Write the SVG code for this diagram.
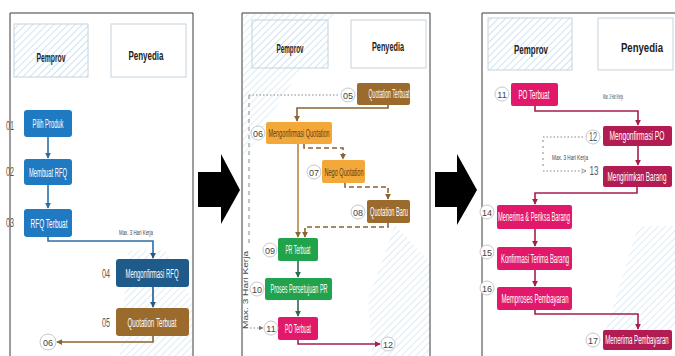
<svg xmlns="http://www.w3.org/2000/svg" width="675" height="356" viewBox="0 0 675 356">
<defs>
<pattern id="hatch" width="5" height="5" patternUnits="userSpaceOnUse" patternTransform="rotate(45)">
<rect width="5" height="5" fill="#ffffff"/>
<line x1="0" y1="0" x2="0" y2="5" stroke="#b9d7ec" stroke-width="1.4"/>
</pattern>
<pattern id="hatchT" width="5" height="5" patternUnits="userSpaceOnUse" patternTransform="rotate(45)">
<line x1="0" y1="0" x2="0" y2="5" stroke="#c3def0" stroke-width="1.3"/>
</pattern>
<marker id="aBlue" viewBox="0 0 8 8" refX="7" refY="4" markerWidth="6" markerHeight="6" orient="auto" markerUnits="userSpaceOnUse"><path d="M0,0 L8,4 L0,8 z" fill="#2b6ea6"/></marker>
<marker id="aNavy" viewBox="0 0 8 8" refX="7" refY="4" markerWidth="6" markerHeight="6" orient="auto" markerUnits="userSpaceOnUse"><path d="M0,0 L8,4 L0,8 z" fill="#1e5b8a"/></marker>
<marker id="aBrown" viewBox="0 0 8 8" refX="7" refY="4" markerWidth="6" markerHeight="6" orient="auto" markerUnits="userSpaceOnUse"><path d="M0,0 L8,4 L0,8 z" fill="#8a6433"/></marker>
<marker id="aGreen" viewBox="0 0 8 8" refX="7" refY="4" markerWidth="6" markerHeight="6" orient="auto" markerUnits="userSpaceOnUse"><path d="M0,0 L8,4 L0,8 z" fill="#2d6a4f"/></marker>
<marker id="aRed" viewBox="0 0 8 8" refX="7" refY="4" markerWidth="6" markerHeight="6" orient="auto" markerUnits="userSpaceOnUse"><path d="M0,0 L8,4 L0,8 z" fill="#a61e4d"/></marker>
<marker id="aGray" viewBox="0 0 8 8" refX="7" refY="4" markerWidth="5" markerHeight="5" orient="auto" markerUnits="userSpaceOnUse"><path d="M0,0 L8,4 L0,8 z" fill="#777"/></marker>
<marker id="aOpen" viewBox="0 0 8 8" refX="7" refY="4" markerWidth="6" markerHeight="6" orient="auto" markerUnits="userSpaceOnUse"><path d="M1,1 L7,4 L1,7" fill="none" stroke="#777" stroke-width="1"/></marker>
</defs>
<style>
.panel{fill:none;stroke:#3a3a3a;stroke-width:1}
.hdr{fill:#fff;stroke:#c5d3de;stroke-width:1}
.hdrh{fill:url(#hatch);stroke:#c5d3de;stroke-width:1}
.htxt{font-family:"Liberation Sans",Arial,sans-serif;font-size:13px;font-weight:bold;fill:#222;text-anchor:middle}
.lbl{font-family:"Liberation Sans",Arial,sans-serif;font-size:12px;fill:#fff;text-anchor:middle}
.dlbl{font-family:"Liberation Sans",Arial,sans-serif;font-size:11px;fill:#5a3c12;text-anchor:middle}
.num{font-family:"Liberation Sans",Arial,sans-serif;font-size:12px;fill:#555;text-anchor:middle}
.cnum{font-family:"Liberation Sans",Arial,sans-serif;font-size:9px;fill:#444;text-anchor:middle}
.circ{fill:#fff;stroke:#c8c8c8;stroke-width:1}
.note{font-family:"Liberation Sans",Arial,sans-serif;font-size:7px;fill:#444;text-anchor:middle}
.blue{fill:#1f7ac2}
.navy{fill:#1e5b8a}
.brown{fill:#9b6b2e}
.orange{fill:#f3a93a}
.green{fill:#21a24c}
.pink{fill:#e2186a}
.crim{fill:#b21c52}
.ln{fill:none;stroke-width:1.6}
.deco{fill:url(#hatchT);opacity:0.9}
</style>

<!-- decorations -->
<polygon class="deco" points="243,14 335,14 243,160"/>
<polygon class="deco" points="128,250 165,250 192,300 192,356 120,356"/>
<polygon class="deco" points="395,225 430,262 430,356 372,356 368,300"/>
<polygon class="deco" points="638,226 675,226 675,330 606,330"/>

<!-- panels -->
<path class="panel" d="M10 356 V13 H193 V356"/>
<path class="panel" d="M242 356 V13 H430 V356" stroke="#666"/>
<path class="panel" d="M482 356 V13 H675"/>

<!-- big arrows -->
<polygon points="198,172 221,172 221,154 240,190 221,224 221,207 198,207" fill="#000"/>
<polygon points="435,172 457,172 457,154 477,190 457,225 457,207 435,207" fill="#000"/>

<!-- headers -->
<g id="p1-hdr-pemprov"><rect class="hdrh" x="14" y="24" width="74" height="53"/><text class="htxt" x="51" y="62" textLength="29" lengthAdjust="spacingAndGlyphs">Pemprov</text></g>
<g id="p1-hdr-penyedia"><rect class="hdr" x="111" y="24" width="75" height="53"/><text class="htxt" x="146" y="60" textLength="35" lengthAdjust="spacingAndGlyphs">Penyedia</text></g>
<g id="p2-hdr-pemprov"><rect class="hdrh" x="252" y="20" width="76" height="48"/><text class="htxt" x="290" y="53" textLength="27" lengthAdjust="spacingAndGlyphs">Pemprov</text></g>
<g id="p2-hdr-penyedia"><rect class="hdr" x="351" y="20" width="75" height="48"/><text class="htxt" x="388" y="51" textLength="32" lengthAdjust="spacingAndGlyphs">Penyedia</text></g>
<g id="p3-hdr-pemprov"><rect class="hdrh" x="488" y="18" width="84" height="52"/><text class="htxt" x="531" y="54" textLength="34" lengthAdjust="spacingAndGlyphs">Pemprov</text></g>
<g id="p3-hdr-penyedia"><rect class="hdr" x="598" y="18" width="75" height="52"/><text class="htxt" x="0" y="0" transform="translate(642,52) scale(0.737,1)">Penyedia</text></g>

<!-- connectors -->
<g id="connectors">
<path class="ln" stroke="#2b6ea6" d="M48 137 V158" marker-end="url(#aBlue)"/>
<path class="ln" stroke="#2b6ea6" d="M48 185 V208" marker-end="url(#aBlue)"/>
<path class="ln" stroke="#2b6ea6" d="M48 237 V241 H153 V258" marker-end="url(#aNavy)"/>
<path class="ln" stroke="#1e5b8a" d="M153 287 V307" marker-end="url(#aNavy)"/>
<path class="ln" stroke="#8a6433" d="M153 336 V342 H57" marker-end="url(#aBrown)"/>

<path fill="none" stroke="#888" stroke-width="1.2" stroke-dasharray="1.5,2" d="M249 95 H340"/>
<path fill="none" stroke="#888" stroke-width="1" stroke-dasharray="4,4" d="M249 95 V244"/>
<path fill="none" stroke="#888" stroke-width="1.2" stroke-dasharray="1.5,2" d="M250 328 H263" marker-end="url(#aGray)"/>
<path class="ln" stroke="#8a6433" d="M388 105 V108 H297 V121" marker-end="url(#aBrown)"/>
<path class="ln" stroke="#8a6433" stroke-dasharray="5,3" d="M304 144 V148 H343 V159" marker-end="url(#aBrown)"/>
<path class="ln" stroke="#8a6433" stroke-dasharray="5,3" d="M345 183 V187 H388 V199" marker-end="url(#aBrown)"/>
<path class="ln" stroke="#8a6433" stroke-dasharray="5,3" d="M388 223 V227 H305 V237" marker-end="url(#aBrown)"/>
<path class="ln" stroke="#b48645" d="M298 144 V237" marker-end="url(#aBrown)"/>
<path class="ln" stroke="#2d6a4f" d="M298 261 V277" marker-end="url(#aGreen)"/>
<path class="ln" stroke="#2d6a4f" d="M298 300 V316" marker-end="url(#aGreen)"/>
<path class="ln" stroke="#a61e4d" d="M298 340 V344 H380" marker-end="url(#aRed)"/>

<path class="ln" stroke="#a61e4d" d="M535 106 V111 H638 V125" marker-end="url(#aRed)"/>
<path fill="none" stroke="#888" stroke-width="1.2" stroke-dasharray="1.5,2" d="M543 137 H585"/>
<path fill="none" stroke="#888" stroke-width="1" stroke-dasharray="2,4" d="M543 140 V168"/>
<path fill="none" stroke="#888" stroke-width="1.2" stroke-dasharray="1.5,2" d="M543 171 H586" marker-end="url(#aOpen)"/>
<path class="ln" stroke="#a61e4d" d="M638 146 V165" marker-end="url(#aRed)"/>
<path class="ln" stroke="#a61e4d" d="M637 187 V193 H535 V204" marker-end="url(#aRed)"/>
<path class="ln" stroke="#a61e4d" d="M535 229 V246" marker-end="url(#aRed)"/>
<path class="ln" stroke="#a61e4d" d="M535 270 V286" marker-end="url(#aRed)"/>
<path class="ln" stroke="#a61e4d" d="M535 310 V314 H638 V329" marker-end="url(#aRed)"/>

<text class="note" x="136" y="235" textLength="34" lengthAdjust="spacingAndGlyphs">Max. 3 Hari Kerja</text>
<text class="note" x="0" y="0" transform="translate(248,290) rotate(-90)" textLength="78" lengthAdjust="spacingAndGlyphs" font-size="8">Max. 3 Hari Kerja</text>
<text class="note" x="613" y="99" font-size="4" textLength="20" lengthAdjust="spacingAndGlyphs">Max. 3 Hari Kerja</text>
<text class="note" x="570" y="160" textLength="36" lengthAdjust="spacingAndGlyphs">Max. 3 Hari Kerja</text>
</g>

<!-- panel 1 nodes -->
<g id="p1-n01"><rect class="blue" x="24" y="110" width="48" height="27" rx="3"/><text class="lbl" x="48" y="128" textLength="31" lengthAdjust="spacingAndGlyphs">Pilih Produk</text><text class="num" x="10" y="130" textLength="8" lengthAdjust="spacingAndGlyphs">01</text></g>
<g id="p1-n02"><rect class="blue" x="24" y="159" width="48" height="26" rx="3"/><text class="lbl" x="48" y="176.5" textLength="38" lengthAdjust="spacingAndGlyphs">Membuat RFQ</text><text class="num" x="10" y="176" textLength="8" lengthAdjust="spacingAndGlyphs">02</text></g>
<g id="p1-n03"><rect class="blue" x="24" y="209" width="48" height="28" rx="3"/><text class="lbl" x="49" y="227.5" textLength="37" lengthAdjust="spacingAndGlyphs">RFQ Terbuat</text><text class="num" x="10" y="227" textLength="8" lengthAdjust="spacingAndGlyphs">03</text></g>
<g id="p1-n04"><rect class="navy" x="116" y="259" width="73" height="28" rx="3"/><text class="lbl" x="152" y="277.5" textLength="53" lengthAdjust="spacingAndGlyphs">Mengonfirmasi RFQ</text><text class="num" x="106" y="278" textLength="8" lengthAdjust="spacingAndGlyphs">04</text></g>
<g id="p1-n05"><rect class="brown" x="116" y="308" width="73" height="28" rx="3"/><text class="lbl" x="152" y="326.5" textLength="49" lengthAdjust="spacingAndGlyphs">Quotation Terbuat</text><text class="num" x="106" y="327" textLength="8" lengthAdjust="spacingAndGlyphs">05</text></g>
<g id="p1-n06"><circle class="circ" cx="48" cy="342" r="8"/><text class="cnum" x="48" y="345.5">06</text></g>

<!-- panel 2 nodes -->
<g id="p2-n05"><rect class="brown" x="357" y="83" width="53" height="22" rx="2"/><text class="lbl" x="389" y="98" font-size="11" textLength="41" lengthAdjust="spacingAndGlyphs">Quotation Terbuat</text><circle class="circ" cx="348" cy="95" r="7"/><text class="cnum" x="348" y="98.5">05</text></g>
<g id="p2-n06"><rect class="orange" x="266" y="122" width="66" height="22" rx="2"/><text class="dlbl" x="299" y="137" textLength="61" lengthAdjust="spacingAndGlyphs">Mengonfirmasi Quotation</text><circle class="circ" cx="258" cy="133" r="7"/><text class="cnum" x="258" y="136.5">06</text></g>
<g id="p2-n07"><rect class="orange" x="322" y="160" width="43" height="23" rx="2"/><text class="dlbl" x="344" y="175.5" textLength="39" lengthAdjust="spacingAndGlyphs">Nego Quotation</text><circle class="circ" cx="314" cy="172" r="7"/><text class="cnum" x="314" y="175.5">07</text></g>
<g id="p2-n08"><rect class="brown" x="367" y="200" width="43" height="23" rx="2"/><text class="lbl" x="389" y="215.5" font-size="11" textLength="38" lengthAdjust="spacingAndGlyphs">Quotation Baru</text><circle class="circ" cx="358" cy="212" r="7"/><text class="cnum" x="358" y="215.5">08</text></g>
<g id="p2-n09"><rect class="green" x="278" y="238" width="40" height="23" rx="2"/><text class="lbl" x="298" y="253.5" font-size="11" textLength="25" lengthAdjust="spacingAndGlyphs">PR Terbuat</text><circle class="circ" cx="270" cy="250" r="7"/><text class="cnum" x="270" y="253.5">09</text></g>
<g id="p2-n10"><rect class="green" x="265" y="278" width="67" height="22" rx="2"/><text class="lbl" x="299" y="293" font-size="11" textLength="57" lengthAdjust="spacingAndGlyphs">Proses Persetujuan PR</text><circle class="circ" cx="257" cy="289" r="7"/><text class="cnum" x="257" y="292.5">10</text></g>
<g id="p2-n11"><rect class="pink" x="278" y="317" width="40" height="23" rx="2"/><text class="lbl" x="298" y="332.5" font-size="11" textLength="26" lengthAdjust="spacingAndGlyphs">PO Terbuat</text><circle class="circ" cx="271" cy="328" r="7"/><text class="cnum" x="271" y="331.5">11</text></g>
<g id="p2-n12"><circle class="circ" cx="388" cy="344" r="7"/><text class="cnum" x="388" y="347.5">12</text></g>

<!-- panel 3 nodes -->
<g id="p3-n11"><rect class="pink" x="511" y="83" width="47" height="23" rx="2"/><text class="lbl" x="534" y="98.5" font-size="11" textLength="31" lengthAdjust="spacingAndGlyphs">PO Terbuat</text><circle class="circ" cx="502" cy="94" r="7"/><text class="cnum" x="502" y="97.5">11</text></g>
<g id="p3-n12"><rect class="crim" x="603" y="126" width="69" height="20" rx="2"/><text class="lbl" font-size="11" x="0" y="0" transform="translate(637,140) scale(0.553,1)">Mengonfirmasi PO</text><circle class="circ" cx="593" cy="137" r="7"/><text class="num" x="593" y="141" textLength="8" lengthAdjust="spacingAndGlyphs">12</text></g>
<g id="p3-n13"><rect class="crim" x="603" y="166" width="69" height="21" rx="2"/><text class="lbl" font-size="11" x="0" y="0" transform="translate(637,180.5) scale(0.532,1)">Mengirimkan Barang</text><text class="num" x="594" y="175" font-size="13" textLength="9" lengthAdjust="spacingAndGlyphs">13</text></g>
<g id="p3-n14"><rect class="pink" x="497" y="205" width="75" height="24" rx="2"/><text class="lbl" x="534" y="221" font-size="11" textLength="72" lengthAdjust="spacingAndGlyphs">Menerima &amp; Periksa Barang</text><circle class="circ" cx="487" cy="212" r="7"/><text class="cnum" x="487" y="215.5">14</text></g>
<g id="p3-n15"><rect class="pink" x="497" y="247" width="75" height="23" rx="2"/><text class="lbl" x="535" y="262.5" font-size="11" textLength="68" lengthAdjust="spacingAndGlyphs">Konfirmasi Terima Barang</text><circle class="circ" cx="487" cy="252" r="7"/><text class="cnum" x="487" y="255.5">15</text></g>
<g id="p3-n16"><rect class="pink" x="497" y="287" width="75" height="23" rx="2"/><text class="lbl" x="535" y="302.5" font-size="11" textLength="67" lengthAdjust="spacingAndGlyphs">Memproses Pembayaran</text><circle class="circ" cx="487" cy="288" r="7"/><text class="cnum" x="487" y="291.5">16</text></g>
<g id="p3-n17"><rect class="crim" x="603" y="330" width="69" height="20" rx="2"/><text class="lbl" font-size="11" x="0" y="0" transform="translate(637,344) scale(0.509,1)">Menerima Pembayaran</text><circle class="circ" cx="593" cy="340" r="7"/><text class="cnum" x="593" y="343.5">17</text></g>
</svg>
